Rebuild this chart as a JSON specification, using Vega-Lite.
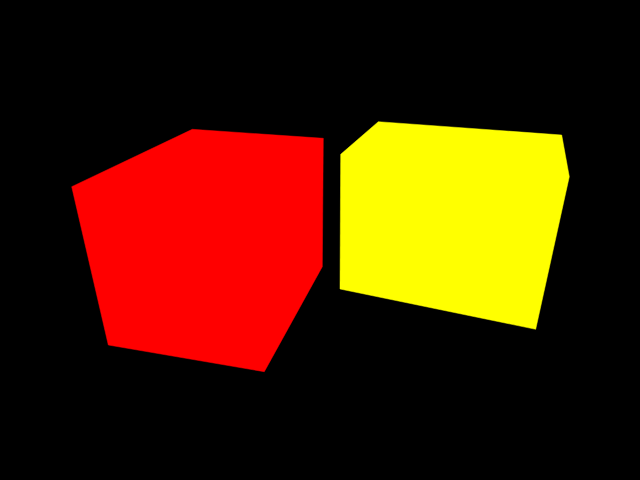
{
  "$schema": "https://vega.github.io/schema/vega-lite/v6.json",
  "width": 640,
  "height": 480,
  "autosize": {"type": "fit", "contains": "padding"},
  "padding": 0,
  "background": "black",
  "config": {"view": {"stroke": null}},
  "data": {
    "values": [
      {"shape": "red", "order": 1, "x": 71.7, "y": 186.7},
      {"shape": "red", "order": 2, "x": 192.3, "y": 129.3},
      {"shape": "red", "order": 3, "x": 323.3, "y": 138.3},
      {"shape": "red", "order": 4, "x": 322.3, "y": 266.7},
      {"shape": "red", "order": 5, "x": 264.3, "y": 371.7},
      {"shape": "red", "order": 6, "x": 108.3, "y": 345},
      {"shape": "red", "order": 7, "x": 71.7, "y": 186.7},
      {"shape": "yellow", "order": 1, "x": 340.7, "y": 154.3},
      {"shape": "yellow", "order": 2, "x": 378.3, "y": 121.7},
      {"shape": "yellow", "order": 3, "x": 561.7, "y": 135},
      {"shape": "yellow", "order": 4, "x": 569.3, "y": 176.7},
      {"shape": "yellow", "order": 5, "x": 535.7, "y": 329.3},
      {"shape": "yellow", "order": 6, "x": 340, "y": 289},
      {"shape": "yellow", "order": 7, "x": 340.7, "y": 154.3}
    ]
  },
  "mark": {"type": "line", "strokeWidth": 0.5, "interpolate": "linear"},
  "encoding": {
    "x": {
      "field": "x",
      "type": "quantitative",
      "axis": null,
      "scale": {"domain": [0, 640], "nice": false, "zero": false}
    },
    "y": {
      "field": "y",
      "type": "quantitative",
      "axis": null,
      "scale": {"domain": [0, 480], "nice": false, "zero": false, "reverse": true}
    },
    "order": {"field": "order", "type": "quantitative"},
    "detail": {"field": "shape", "type": "nominal"},
    "fill": {
      "field": "shape",
      "type": "nominal",
      "legend": null,
      "scale": {"domain": ["red", "yellow"], "range": ["#ff0000", "#ffff00"]}
    },
    "stroke": {
      "field": "shape",
      "type": "nominal",
      "legend": null,
      "scale": {"domain": ["red", "yellow"], "range": ["#ff0000", "#ffff00"]}
    }
  }
}
